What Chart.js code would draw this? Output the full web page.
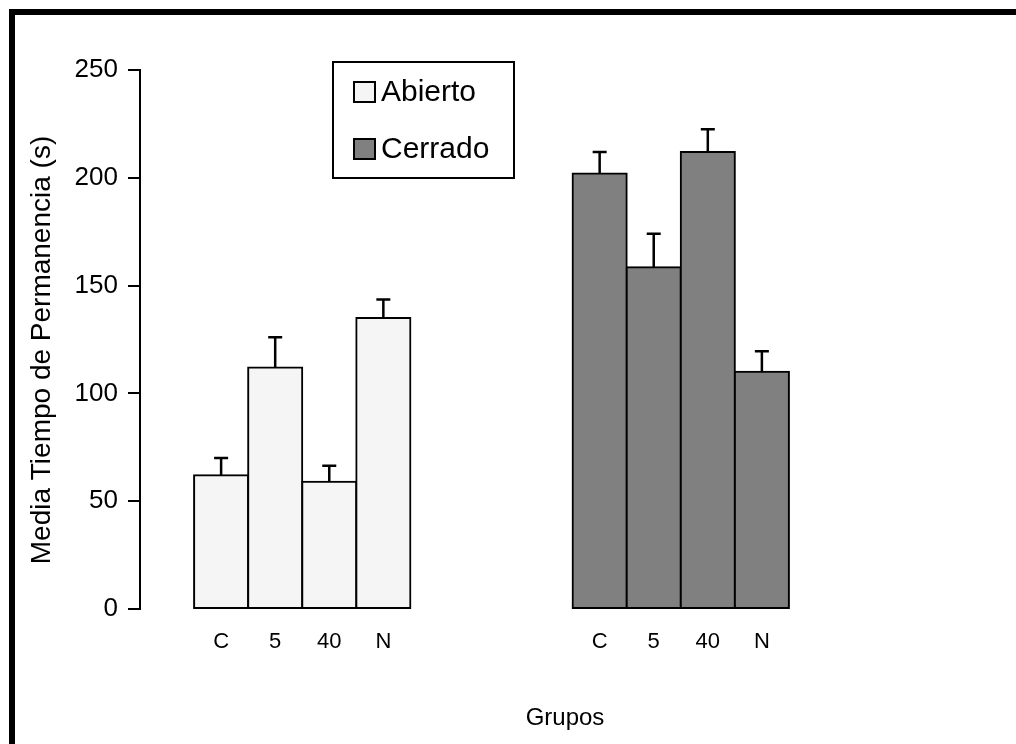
<!DOCTYPE html>
<html lang="es">
  <head>
    <meta charset="UTF-8" />
    <title>Tiempo de permanencia</title>
    <style>
      html, body { margin: 0; padding: 0; background: #fff; }
      #wrap { width: 1016px; height: 744px; }
    </style>
  </head>
  <script src="https://cdn.jsdelivr.net/npm/chart.js@4.4.0/dist/chart.umd.min.js"></script>
  <body>
    <div id="wrap"><canvas id="permanencia-chart"></canvas></div>
    <script>
      const grupos = ['C', '5', '40', 'N'];
      const abierto = [62, 112, 59, 135];
      const abiertoError = [8, 14, 7.5, 8.5];
      const cerrado = [202, 158.5, 212, 110];
      const cerradoError = [10, 15.5, 10.5, 9.5];
      const yTicks = [0, 50, 100, 150, 200, 250];

      const abiertoColor = '#f5f5f5';
      const cerradoColor = '#808080';
      const fontFamily = "'Liberation Sans', Arial, sans-serif";

      // one blank slot each side, three blank slots between the groups
      const labels = ['', ...grupos, '', '', '', ...grupos, ''];
      const abiertoStart = 1;
      const cerradoStart = abiertoStart + grupos.length + 3;

      const pad = (values, start) =>
        labels.map((l, i) => (i >= start && i < start + values.length ? values[i - start] : null));

      Chart.defaults.font.family = fontFamily;
      Chart.defaults.color = '#000';

      const decor = {
        id: 'decor',
        afterDatasetsDraw(chart) {
          const ctx = chart.ctx;
          const yScale = chart.scales.y;
          ctx.save();
          ctx.strokeStyle = '#000';
          ctx.lineWidth = 2.5;
          chart.data.datasets.forEach((ds, di) => {
            const meta = chart.getDatasetMeta(di);
            meta.data.forEach((bar, i) => {
              const v = ds.data[i];
              const e = ds.errors[i];
              if (v == null || e == null) return;
              const yTop = yScale.getPixelForValue(v + e);
              ctx.beginPath();
              ctx.moveTo(bar.x, bar.y);
              ctx.lineTo(bar.x, yTop);
              ctx.moveTo(bar.x - 7, yTop);
              ctx.lineTo(bar.x + 7, yTop);
              ctx.stroke();
            });
          });
          ctx.restore();
        },
        afterDraw(chart) {
          const ctx = chart.ctx;
          ctx.save();
          // outer frame (left and top only)
          ctx.fillStyle = '#000';
          ctx.fillRect(9, 9, 6, 744);
          ctx.fillRect(9, 9, 1016, 6);

          // legend box
          ctx.lineWidth = 2;
          ctx.strokeStyle = '#000';
          ctx.fillStyle = '#fff';
          ctx.fillRect(333, 62, 181, 116);
          ctx.strokeRect(333, 62, 181, 116);
          const items = [
            { text: chart.data.datasets[0].label, color: abiertoColor, y: 92 },
            { text: chart.data.datasets[1].label, color: cerradoColor, y: 149 }
          ];
          ctx.font = '30px ' + fontFamily;
          ctx.textBaseline = 'middle';
          ctx.textAlign = 'left';
          items.forEach((it) => {
            ctx.fillStyle = it.color;
            ctx.fillRect(354, it.y - 10, 21, 20);
            ctx.strokeRect(354, it.y - 10, 21, 20);
            ctx.fillStyle = '#000';
            ctx.fillText(it.text, 381, it.y + 1);
          });

          // axis titles
          ctx.font = '24px ' + fontFamily;
          ctx.textAlign = 'center';
          ctx.fillText('Grupos', 565, 718);

          ctx.translate(42, 350);
          ctx.rotate(-Math.PI / 2);
          ctx.font = '28px ' + fontFamily;
          ctx.fillText('Media Tiempo de Permanencia (s)', 0, 0);
          ctx.restore();
        }
      };

      new Chart(document.getElementById('permanencia-chart'), {
        type: 'bar',
        data: {
          labels: labels,
          datasets: [
            {
              label: 'Abierto',
              data: pad(abierto, abiertoStart),
              errors: pad(abiertoError, abiertoStart),
              backgroundColor: abiertoColor
            },
            {
              label: 'Cerrado',
              data: pad(cerrado, cerradoStart),
              errors: pad(cerradoError, cerradoStart),
              backgroundColor: cerradoColor
            }
          ]
        },
        options: {
          responsive: true,
          maintainAspectRatio: false,
          animation: false,
          grouped: false,
          barPercentage: 1,
          categoryPercentage: 1,
          borderColor: '#000',
          borderWidth: 2,
          borderSkipped: false,
          inflateAmount: 1,
          layout: {
            padding: { top: 70, right: 173, bottom: 0, left: 0 }
          },
          plugins: {
            legend: { display: false },
            tooltip: { enabled: false }
          },
          scales: {
            x: {
              offset: true,
              grid: { display: false, drawTicks: false },
              border: { display: false },
              ticks: {
                padding: 20,
                autoSkip: false,
                maxRotation: 0,
                font: { size: 22 }
              },
              afterFit: (scale) => {
                scale.height = 135;
              }
            },
            y: {
              min: 0,
              max: 250,
              afterBuildTicks: (scale) => {
                scale.ticks = yTicks.map((v) => ({ value: v }));
              },
              grid: {
                drawOnChartArea: false,
                drawTicks: true,
                tickLength: 12,
                color: '#000',
                lineWidth: 2
              },
              border: { display: true, color: '#000', width: 2 },
              ticks: {
                padding: 10,
                font: { size: 26 }
              },
              afterFit: (scale) => {
                scale.width = 140;
              }
            }
          }
        },
        plugins: [decor]
      });
    </script>
  </body>
</html>
